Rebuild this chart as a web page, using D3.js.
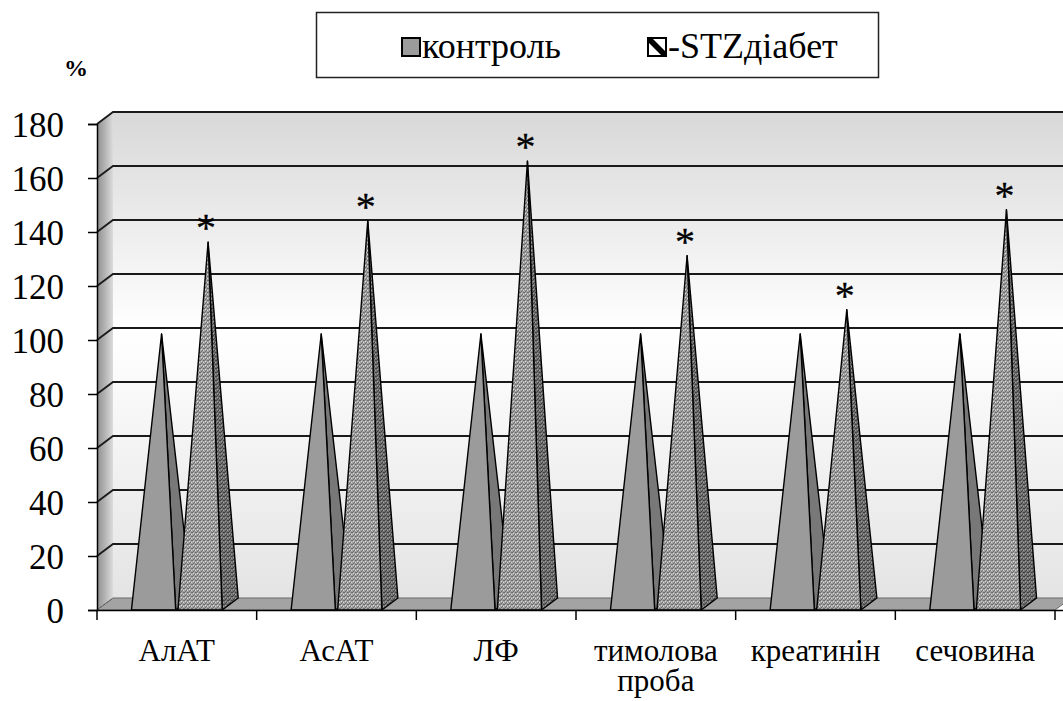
<!DOCTYPE html>
<html>
<head>
<meta charset="utf-8">
<script src="https://cdn.jsdelivr.net/npm/d3@7"></script>
</head>
<body style="margin:0;padding:0;background:#fff">
<svg id="chart" width="1063" height="701" style="display:block"></svg>
<script>
// Liver / kidney markers, % of control
const categories = ["АлАТ", "АсАТ", "ЛФ", "тимолова проба", "креатинін", "сечовина"];
const seriesNames = ["контроль", "-STZдіабет"];
const controlValues = [100, 100, 100, 100, 100, 100];
const diabetValues = [134, 142, 164, 129, 109, 146];
const significance = ["*", "*", "*", "*", "*", "*"];
const yTicks = [0, 20, 40, 60, 80, 100, 120, 140, 160, 180];

const FONT = "Liberation Serif";
const svg = d3.select("#chart");
const defs = svg.append("defs");

// oblique depth of the 3D box
const DX = 16, DY = -12;

const y = d3.scaleLinear().domain([0, 180]).range([610, 124]);
const x0 = d3.scaleBand().domain(categories).range([97, 1055]);
const x1 = d3.scaleBand().domain(seriesNames).range([0, x0.bandwidth()])
  .paddingInner(0.05).paddingOuter(0.74);

const left = x0.range()[0], right = x0.range()[1];
const yBase = y(0);

// ---- paint definitions ----
const wallGrad = defs.append("linearGradient").attr("id", "wall")
  .attr("x1", 0).attr("y1", 0).attr("x2", 0).attr("y2", 1);
wallGrad.append("stop").attr("offset", 0).attr("stop-color", "#d8d8d8");
wallGrad.append("stop").attr("offset", 0.45).attr("stop-color", "#ffffff");
wallGrad.append("stop").attr("offset", 1).attr("stop-color", "#e4e4e4");

const sideGrad = defs.append("linearGradient").attr("id", "sidewall")
  .attr("x1", 0).attr("y1", 0).attr("x2", 1).attr("y2", 0);
sideGrad.append("stop").attr("offset", 0).attr("stop-color", "#8f8f8f");
sideGrad.append("stop").attr("offset", 0.5).attr("stop-color", "#b4b4b4");
sideGrad.append("stop").attr("offset", 1).attr("stop-color", "#dcdcdc");

// speckled texture for the diabetes series
function texture(id, base, dark, light) {
  const p = defs.append("pattern").attr("id", id)
    .attr("patternUnits", "userSpaceOnUse").attr("width", 4).attr("height", 4);
  p.append("rect").attr("width", 4).attr("height", 4).attr("fill", base);
  [[0, 0], [2, 2], [3, 0], [1, 3]].forEach(([a, b]) =>
    p.append("rect").attr("x", a).attr("y", b).attr("width", 1).attr("height", 1).attr("fill", dark));
  [[1, 1], [3, 2]].forEach(([a, b]) =>
    p.append("rect").attr("x", a).attr("y", b).attr("width", 1).attr("height", 1).attr("fill", light));
}
texture("diabFront", "#a0a0a0", "#6e6e6e", "#dadada");
texture("diabSide", "#707070", "#404040", "#a0a0a0");

// legend swatch hatch
const hatch = defs.append("pattern").attr("id", "hatch")
  .attr("patternUnits", "userSpaceOnUse").attr("width", 18).attr("height", 18)
  .attr("x", 648).attr("y", 38);
hatch.append("rect").attr("width", 18).attr("height", 18).attr("fill", "#fff");
hatch.append("path").attr("d", "M0,4 L14,18 L18,18 L18,14 L4,0 L0,0 Z").attr("fill", "#000");

// ---- walls and floor ----
svg.append("path")
  .attr("d", `M${left + DX},${y(180) + DY} L${right + DX},${y(180) + DY} L${right + DX},${yBase + DY} L${left + DX},${yBase + DY} Z`)
  .attr("fill", "url(#wall)");

svg.append("path")
  .attr("d", `M${left},${yBase} L${left + DX},${yBase + DY} L${left + DX},${y(180) + DY} L${left},${y(180)} Z`)
  .attr("fill", "url(#sidewall)");

svg.append("path")
  .attr("d", `M${left},${yBase} L${right},${yBase} L${right + DX},${yBase + DY} L${left + DX},${yBase + DY} Z`)
  .attr("fill", "#a3a3a3").attr("stroke", "#6a6a6a").attr("stroke-width", 1);

// gridlines on the back wall, carried across the side wall
const grid = svg.append("g");
yTicks.filter(v => v > 0).forEach(v => {
  grid.append("path")
    .attr("d", `M${left},${y(v)} L${left + DX},${y(v) + DY} L${right + DX},${y(v) + DY}`)
    .attr("fill", "none").attr("stroke", "#1a1a1a").attr("stroke-width", 1.8);
});
svg.append("line")
  .attr("x1", left).attr("y1", yBase).attr("x2", left + DX).attr("y2", yBase + DY)
  .attr("stroke", "#555").attr("stroke-width", 1).attr("stroke-dasharray", "2,2");

// ---- pyramids ----
const series = [
  { name: seriesNames[0], values: controlValues, front: "#9b9b9b", side: "#787878" },
  { name: seriesNames[1], values: diabetValues, front: "url(#diabFront)", side: "url(#diabSide)" }
];

const marks = svg.append("g");
categories.forEach((c, i) => {
  series.forEach(s => {
    const v = s.values[i];
    const xa = x0(c) + x1(s.name);
    const xb = xa + x1.bandwidth();
    const apx = (xa + xb) / 2 + DX / 2;
    const apy = y(v) + DY / 2;
    const g = marks.append("g");
    g.append("path")
      .attr("d", `M${xb},${yBase} L${xb + DX},${yBase + DY} L${apx},${apy} Z`)
      .attr("fill", s.side).attr("stroke", "#000").attr("stroke-width", 1.4).attr("stroke-linejoin", "round");
    g.append("path")
      .attr("d", `M${xa},${yBase} L${xb},${yBase} L${apx},${apy} Z`)
      .attr("fill", s.front).attr("stroke", "#000").attr("stroke-width", 1.4).attr("stroke-linejoin", "round");
  });
  // significance mark over the diabetes pyramid
  const xa = x0(c) + x1(seriesNames[1]);
  marks.append("text")
    .attr("x", xa + x1.bandwidth() / 2 + DX / 2 - 2)
    .attr("y", y(diabetValues[i]) + DY / 2 - 1)
    .attr("text-anchor", "middle")
    .attr("font-family", FONT).attr("font-size", 40)
    .attr("stroke", "#000").attr("stroke-width", 0.3)
    .text(significance[i]);
});

// ---- axes ----
const yAxis = svg.append("g").attr("transform", `translate(${left},0)`)
  .call(d3.axisLeft(y).tickValues(yTicks).tickSize(9).tickPadding(24).tickFormat(d3.format("d")))
  .attr("font-family", FONT).attr("font-size", 35);
yAxis.select(".domain").attr("stroke", "#000").attr("stroke-width", 1.5);
yAxis.selectAll(".tick line").attr("stroke", "#000").attr("stroke-width", 1.5);
yAxis.selectAll(".tick text").attr("dy", "0.35em").attr("fill", "#000")
  .attr("font-family", FONT).attr("font-size", 35);

const xAxis = svg.append("g").attr("transform", `translate(0,${yBase})`)
  .call(d3.axisBottom(x0).tickSize(0).tickPadding(0))
  .attr("font-family", FONT).attr("font-size", 31);
xAxis.select(".domain").attr("d", `M${left},0.5H${right + DX}`).attr("stroke", "#000").attr("stroke-width", 1.5);
xAxis.selectAll(".tick text").remove();
xAxis.selectAll(".tick").each(function (c) {
  const t = d3.select(this).append("text")
    .attr("text-anchor", "middle").attr("fill", "#000")
    .attr("font-family", FONT).attr("font-size", 31);
  c.split(" ").forEach((w, k) => {
    t.append("tspan").attr("x", 0).attr("y", 51 + k * 30).text(w);
  });
});
// category boundary ticks
const bounds = categories.map(c => x0(c)).concat([right]);
svg.append("g").selectAll("line").data(bounds).join("line")
  .attr("x1", d => d).attr("x2", d => d)
  .attr("y1", yBase).attr("y2", yBase + 10)
  .attr("stroke", "#000").attr("stroke-width", 1.5);

svg.append("text").attr("x", 64).attr("y", 76)
  .attr("font-family", FONT).attr("font-size", 24).attr("font-weight", "bold").text("%");

// ---- legend ----
const legend = svg.append("g");
legend.append("rect").attr("x", 316.5).attr("y", 12.5).attr("width", 562).attr("height", 65)
  .attr("fill", "#fff").attr("stroke", "#222").attr("stroke-width", 1.5);
legend.append("rect").attr("x", 402).attr("y", 38).attr("width", 18).attr("height", 18)
  .attr("fill", "#9b9b9b").attr("stroke", "#000").attr("stroke-width", 2);
legend.append("text").attr("x", 422).attr("y", 58)
  .attr("font-family", FONT).attr("font-size", 36).text(seriesNames[0]);
legend.append("rect").attr("x", 648).attr("y", 38).attr("width", 18).attr("height", 18)
  .attr("fill", "url(#hatch)").attr("stroke", "#000").attr("stroke-width", 2);
legend.append("text").attr("x", 668).attr("y", 58)
  .attr("font-family", FONT).attr("font-size", 36).text(seriesNames[1]);
</script>
</body>
</html>
